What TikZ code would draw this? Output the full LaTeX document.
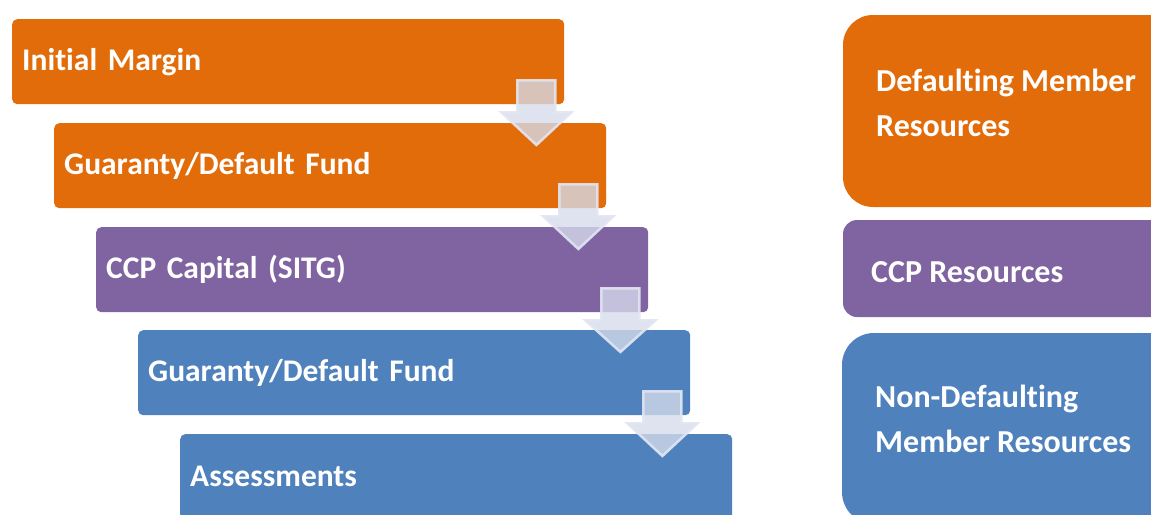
\documentclass[tikz,border=0pt]{standalone}
\usepackage{fontspec}
\setmainfont{Carlito}[Ligatures=NoCommon]
\usetikzlibrary{calc}
\definecolor{cOrange}{RGB}{227,108,10}
\definecolor{cPurple}{RGB}{128,100,162}
\definecolor{cBlue}{RGB}{79,129,189}
\definecolor{cArrow}{RGB}{214,220,236}
\begin{document}
\begin{tikzpicture}[x=1pt,y=1pt,
  tier/.style={anchor=north west, minimum width=552pt, minimum height=85pt,
    text width=532pt, inner xsep=10pt, align=left, rounded corners=5pt,
    text=white, font=\bfseries\fontsize{31.5}{36}\selectfont},
  group/.style={rounded corners=#1, draw=none},
  grouptext/.style={anchor=west, align=left, text=white, inner sep=0pt,
    font=\bfseries\fontsize{32}{45}\selectfont},
  flow/.style={fill=cArrow, fill opacity=0.78, draw=cArrow!70!white,
    draw opacity=0.9, line width=2.5pt, line join=miter}
]
\useasboundingbox (0,0) rectangle (1151,-514);
\fill[white] (0,0) rectangle (1151,-514);

% waterfall of default resources
\node[tier, fill=cOrange] (im)  at (12,-19)  {Initial Margin};
\node[tier, fill=cOrange] (gf1) at (54,-123) {Guaranty/Default Fund};
\node[tier, fill=cPurple] (cap) at (96,-227) {CCP Capital (SITG)};
\node[tier, fill=cBlue]   (gf2) at (138,-330) {Guaranty/Default Fund};
\node[tier, fill=cBlue]   (as)  at (180,-434) {Assessments};

% block arrows stepping down from one tier to the next
\foreach \a/\b in {im/gf1, gf1/cap, cap/gf2, gf2/as}{
  \coordinate (top-\a) at ($(\a.south east)+(-28,24)$);
  \coordinate (tip-\a) at (top-\a |- {$(\b.north)+(0,-22)$});
  \draw[flow] ($(top-\a)+(-19,0)$) -- ($(top-\a)+(19,0)$)
    -- ($(top-\a)+(19,-32)$) -- ($(top-\a)+(35,-32)$)
    -- (tip-\a)
    -- ($(top-\a)+(-35,-32)$) -- ($(top-\a)+(-19,-32)$) -- cycle;
}

% resource groups on the right
\path[group=30pt, fill=cOrange] (843,-15) rectangle (1200,-207);
\path[group=14pt, fill=cPurple] (843,-220) rectangle (1200,-317);
\path[group=32pt, fill=cBlue] (842,-333) rectangle (1200,-524);

\node[grouptext] (dmt)  at (876,-103) {Defaulting Member\\Resources};
\node[grouptext] (ccpt) at (871,-272) {CCP Resources};
\node[grouptext] (ndt)  at (875,-419) {Non-Defaulting\\Member Resources};
\end{tikzpicture}
\end{document}
